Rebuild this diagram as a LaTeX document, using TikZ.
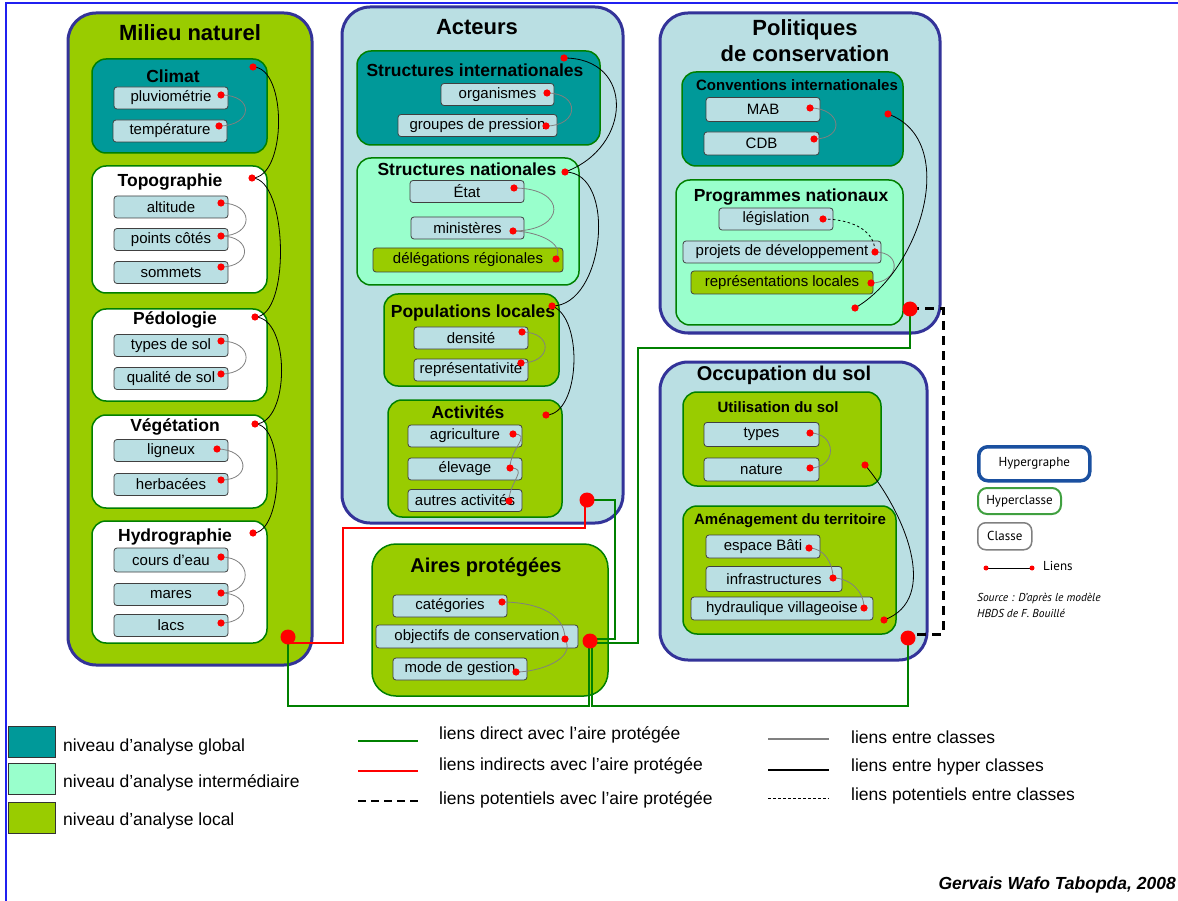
\documentclass[tikz,border=0pt]{standalone}
\usepackage{fontspec}
\setmainfont{Liberation Sans}
\newfontfamily\legfont{PT Sans}
\definecolor{cglobal}{HTML}{009999}
\definecolor{cinter}{HTML}{99FFCC}
\definecolor{clocal}{HTML}{99CC00}
\definecolor{cfond}{HTML}{BADFE3}
\definecolor{cbord}{HTML}{333399}
\definecolor{cvert}{HTML}{008000}
\definecolor{ccadre}{HTML}{2020F0}
\definecolor{chg}{HTML}{1A50A0}
\definecolor{chc}{HTML}{40A040}
\tikzset{
  hgraphe/.style={draw=cbord,line width=3pt,rounded corners=28pt,anchor=north west,inner sep=0pt,outer sep=0pt},
  hclasse/.style={draw=cvert,line width=1.5pt,rounded corners=14pt,anchor=north west,inner sep=0pt,outer sep=0pt},
  classe/.style={draw=black!75,line width=0.8pt,fill=cfond,rounded corners=3pt,inner sep=0pt,minimum height=22pt,font=\fontsize{15}{18}\selectfont},
  titre/.style={font=\bfseries\fontsize{22}{26}\selectfont,align=center},
  stitre/.style={font=\bfseries\fontsize{17.5}{20}\selectfont},
  petitre/.style={font=\bfseries\fontsize{15}{18}\selectfont},
  legende/.style={font=\fontsize{17.5}{20}\selectfont,anchor=west,inner sep=0pt},
  lienc/.style={draw=gray,line width=0.8pt},
  lienh/.style={draw=black,line width=0.8pt},
  lienp/.style={draw=black,line width=0.8pt,dash pattern=on 2.5pt off 2.5pt},
  direct/.style={draw=cvert,line width=2pt},
  indirect/.style={draw=red,line width=2pt},
  potentiel/.style={draw=black,line width=3pt,dash pattern=on 9pt off 6pt},
  cadre/.style={draw=ccadre,line width=2pt},
}
\begin{document}
\begin{tikzpicture}[x=1pt,y=-1pt]
\useasboundingbox (0,0) rectangle (1178,901);
\draw[cadre] (1178,3) -| (6,901);

% hypergraphes
\node[hgraphe,fill=clocal,minimum width=244pt,minimum height=652pt] (milieu) at (68,13) {};
\node[hgraphe,fill=cfond,minimum width=281pt,minimum height=516pt] (acteurs) at (342,7) {};
\node[hgraphe,fill=cfond,minimum width=280pt,minimum height=320pt] (politiques) at (660,13) {};
\node[hgraphe,fill=cfond,minimum width=267pt,minimum height=298pt] (occup) at (660,362) {};
\node[hclasse,fill=clocal,rounded corners=24pt,minimum width=236pt,minimum height=152pt] (aires) at (372,544) {};

% hyperclasses
\node[hclasse,fill=cglobal,minimum width=175pt,minimum height=94pt] (climat) at (92,59) {};
\node[hclasse,fill=white,minimum width=175pt,minimum height=127pt] (topo) at (92,166) {};
\node[hclasse,fill=white,minimum width=175pt,minimum height=92pt] (pedo) at (92,309) {};
\node[hclasse,fill=white,minimum width=175pt,minimum height=93pt] (veget) at (92,415) {};
\node[hclasse,fill=white,minimum width=175pt,minimum height=122pt] (hydro) at (92,521) {};
\node[hclasse,fill=cglobal,minimum width=243pt,minimum height=94pt] (sint) at (357,51) {};
\node[hclasse,fill=cinter,minimum width=222pt,minimum height=127pt] (snat) at (357,158) {};
\node[hclasse,fill=clocal,minimum width=175pt,minimum height=92pt] (popl) at (384,294) {};
\node[hclasse,fill=clocal,minimum width=174pt,minimum height=117pt] (activ) at (388,400) {};
\node[hclasse,fill=cglobal,minimum width=221pt,minimum height=94pt] (conv) at (682,72) {};
\node[hclasse,fill=cinter,minimum width=227pt,minimum height=145pt] (prog) at (676,180) {};
\node[hclasse,fill=clocal,minimum width=198pt,minimum height=94pt] (util) at (683,392) {};
\node[hclasse,fill=clocal,minimum width=213pt,minimum height=128pt] (amen) at (683,506) {};

% titres
\node[titre] (milieuT) at (190,33) {Milieu naturel};
\node[titre] (acteursT) at (477,27) {Acteurs};
\node[titre] (politiquesT) at (805,41) {Politiques\\de conservation};
\node[titre,font=\bfseries\fontsize{20}{24}\selectfont] (occupT) at (784,375) {Occupation du sol};
\node[titre,font=\bfseries\fontsize{20}{24}\selectfont] (airesT) at (486,567) {Aires protégées};
\node[stitre] (climatT) at (173,76) {Climat};
\node[stitre] (topoT) at (170,182) {Topographie};
\node[stitre] (pedoT) at (175,320) {Pédologie};
\node[stitre] (vegetT) at (175,427) {Végétation};
\node[stitre] (hydroT) at (175,537) {Hydrographie};
\node[stitre] (sintT) at (475,70) {Structures internationales};
\node[stitre] (snatT) at (467,169) {Structures nationales};
\node[stitre] (poplT) at (473,313) {Populations locales};
\node[stitre] (activT) at (468,412) {Activités};
\node[petitre] (convT) at (797,85) {Conventions internationales};
\node[stitre] (progT) at (791,197) {Programmes nationaux};
\node[petitre] (utilT) at (778,407) {Utilisation du sol};
\node[petitre] (amenT) at (790,521) {Aménagement du territoire};

% classes
\node[classe,minimum width=114pt] (pluvio) at (171,98) {pluviométrie};
\node[classe,minimum width=114pt] (temp) at (170,131) {température};
\node[classe,minimum width=114pt] (alt) at (171,207) {altitude};
\node[classe,minimum width=114pt] (points) at (171,239.5) {points côtés};
\node[classe,minimum width=114pt] (sommets) at (171,272.5) {sommets};
\node[classe,minimum width=114pt] (tsol) at (171,345.5) {types de sol};
\node[classe,minimum width=114pt] (qsol) at (171,378.5) {qualité de sol};
\node[classe,minimum width=114pt] (ligneux) at (171,450.5) {ligneux};
\node[classe,minimum width=114pt] (herb) at (171,484.5) {herbacées};
\node[classe,minimum width=114pt,minimum height=24pt] (cours) at (171,560) {cours d’eau};
\node[classe,minimum width=114pt] (mares) at (171,594.5) {mares};
\node[classe,minimum width=114pt] (lacs) at (171,625.5) {lacs};
\node[classe,minimum width=113pt] (org) at (497.5,94.5) {organismes};
\node[classe,minimum width=159pt] (groupes) at (477.5,125.5) {groupes de pression};
\node[classe,minimum width=114pt] (etat) at (467,191.5) {État};
\node[classe,minimum width=113pt] (min) at (467.5,228) {ministères};
\node[classe,fill=clocal,minimum width=190pt,minimum height=24pt] (deleg) at (468,260) {délégations régionales};
\node[classe,minimum width=114pt] (dens) at (471,338) {densité};
\node[classe,minimum width=114pt] (rep) at (471,370) {représentativité};
\node[classe,minimum width=114pt] (agri) at (465,436) {agriculture};
\node[classe,minimum width=114pt] (elev) at (465,469) {élevage};
\node[classe,minimum width=114pt] (autres) at (465,500.5) {autres activités};
\node[classe,minimum width=114pt] (cat) at (450,606) {catégories};
\node[classe,minimum width=202pt,minimum height=23pt] (obj) at (477,636.5) {objectifs de conservation};
\node[classe,minimum width=134pt] (mode) at (460,669) {mode de gestion};
\node[classe,minimum width=114pt,minimum height=24pt] (mab) at (763,109.5) {MAB};
\node[classe,minimum width=115pt,minimum height=23pt] (cdb) at (761.5,143.5) {CDB};
\node[classe,minimum width=114pt] (legis) at (776,219) {législation};
\node[classe,minimum width=198pt] (proj) at (782,252) {projets de développement};
\node[classe,fill=clocal,minimum width=182pt,minimum height=23pt] (reploc) at (782,282.5) {représentations locales};
\node[classe,minimum width=115pt,minimum height=24pt] (types) at (761.5,434.5) {types};
\node[classe,minimum width=115pt,minimum height=23pt] (nature) at (761.5,469.5) {nature};
\node[classe,minimum width=114pt,minimum height=23pt] (espace) at (763,546.5) {espace Bâti};
\node[classe,minimum width=136pt,minimum height=25pt] (infra) at (774,579) {infrastructures};
\node[classe,minimum width=182pt,minimum height=23pt] (hydrau) at (782,608.5) {hydraulique villageoise};

% points d'attache
\coordinate (climatP) at (253,67);
\coordinate (pluvioP) at (221,95);
\coordinate (tempP) at (219,126);
\coordinate (topoP) at (252,178);
\coordinate (altP) at (221,203);
\coordinate (pointsP) at (221,236);
\coordinate (sommetsP) at (221,267);
\coordinate (pedoP) at (255,317);
\coordinate (tsolP) at (221,341);
\coordinate (qsolP) at (221,374);
\coordinate (vegetP) at (255,424);
\coordinate (ligneuxP) at (217,449);
\coordinate (herbP) at (221,480);
\coordinate (hydroP) at (253,533);
\coordinate (coursP) at (221,557);
\coordinate (maresP) at (221,593);
\coordinate (lacsP) at (221,623);
\coordinate (sintP) at (564,58);
\coordinate (orgP) at (547,93);
\coordinate (groupesP) at (546,126);
\coordinate (snatP) at (565,172);
\coordinate (etatP) at (514,188);
\coordinate (minP) at (513,231);
\coordinate (delegP) at (556,259);
\coordinate (poplP) at (552,306);
\coordinate (densP) at (522,332);
\coordinate (repP) at (521,363);
\coordinate (activP) at (546,415);
\coordinate (agriP) at (513,434);
\coordinate (elevP) at (510,468);
\coordinate (autresP) at (509,501);
\coordinate (catP) at (502,602);
\coordinate (objP) at (565,639);
\coordinate (modeP) at (516,672);
\coordinate (convP) at (888,114);
\coordinate (mabP) at (810,108);
\coordinate (cdbP) at (814,139);
\coordinate (progP) at (855,308);
\coordinate (legisP) at (823,219);
\coordinate (projP) at (875,252);
\coordinate (replocP) at (871,283);
\coordinate (utilP) at (865,465);
\coordinate (typesP) at (810,433);
\coordinate (natureP) at (810,468);
\coordinate (amenP) at (884,620);
\coordinate (espaceP) at (809,548);
\coordinate (infraP) at (833,578);
\coordinate (hydrauP) at (864,608);
\coordinate (milieuP) at (288,637);
\coordinate (acteursP) at (587,500);
\coordinate (airesP) at (590,641);
\coordinate (politiquesP) at (910,309);
\coordinate (occupP) at (908,638);

% liens avec l'aire protegee
\draw[indirect] ([yshift=-6pt]milieuP) -| (343,528) -| ([xshift=-2pt]acteursP);
\draw[direct] ([yshift=2pt]airesP) -| (615,500) -- (acteursP);
\draw[direct] ([yshift=-2pt]airesP) -| (638,348) -| (politiquesP);
\draw[direct] ([xshift=1.5pt]airesP) -- ++(0,65) -| (occupP);
\draw[direct] ([xshift=-1.5pt]airesP) -- ++(0,65) -| (milieuP);
\draw[potentiel] (politiquesP) -| (943,470) |- ([yshift=4pt]occupP);

% liens entre classes
\draw[lienc] (pluvioP) to[out=0,in=0,looseness=2.8] (tempP);
\draw[lienc] (altP) to[out=0,in=0,looseness=2.6] (pointsP);
\draw[lienc] (pointsP) to[out=0,in=0,looseness=2.6] (sommetsP);
\draw[lienc] (tsolP) to[out=0,in=0,looseness=2.6] (qsolP);
\draw[lienc] (ligneuxP) to[out=0,in=0,looseness=2.6] (herbP);
\draw[lienc] (coursP) to[out=0,in=0,looseness=2.3] (maresP);
\draw[lienc] (maresP) to[out=0,in=0,looseness=2.6] (lacsP);
\draw[lienc] (orgP) to[out=0,in=0,looseness=2.6] (groupesP);
\draw[lienc] (etatP) to[out=0,in=0,looseness=3.2] (minP);
\draw[lienc] (minP) to[out=0,in=60,looseness=1] (delegP);
\draw[lienc] (densP) to[out=0,in=0,looseness=2.6] (repP);
\draw[lienc] (agriP) to[out=0,in=90,looseness=1.5] (elevP);
\draw[lienc] (elevP) to[out=0,in=90,looseness=1.5] (autresP);
\draw[lienc] (catP) to[out=0,in=90,looseness=1] (objP);
\draw[lienc] (objP) to[out=-60,in=0,looseness=1] (modeP);
\draw[lienc] (mabP) to[out=0,in=0,looseness=2.6] (cdbP);
\draw[lienp] (legisP) to[out=0,in=90,looseness=1] (projP);
\draw[lienc] (projP) to[out=0,in=0,looseness=2.3] (replocP);
\draw[lienc] (typesP) to[out=0,in=0,looseness=2] (natureP);
\draw[lienc] (espaceP) to[out=0,in=90,looseness=1] (infraP);
\draw[lienc] (infraP) to[out=0,in=90,looseness=1] (hydrauP);

% liens entre hyperclasses
\draw[lienh] (climatP) to[out=0,in=0,looseness=0.8] (topoP);
\draw[lienh] (topoP) to[out=0,in=0,looseness=0.66] (pedoP);
\draw[lienh] (pedoP) to[out=0,in=0,looseness=0.85] (vegetP);
\draw[lienh] (vegetP) to[out=0,in=0,looseness=0.72] (hydroP);
\draw[lienh] (sintP) to[out=0,in=20,looseness=1.6] (snatP);
\draw[lienh] (snatP) to[out=0,in=0,looseness=1] (poplP);
\draw[lienh] (poplP) to[out=-20,in=0,looseness=0.8] (activP);
\draw[lienh] (convP) to[out=-20,in=30,looseness=1] (progP);
\draw[lienh] (utilP) to[out=-50,in=20,looseness=1] (amenP);

\foreach \p in {climatP,pluvioP,tempP,topoP,altP,pointsP,sommetsP,pedoP,tsolP,qsolP,vegetP,ligneuxP,herbP,hydroP,coursP,maresP,lacsP,sintP,orgP,groupesP,snatP,etatP,minP,delegP,poplP,densP,repP,activP,agriP,elevP,autresP,catP,objP,modeP,convP,mabP,cdbP,progP,legisP,projP,replocP,utilP,typesP,natureP,amenP,espaceP,infraP,hydrauP}
  \fill[red] (\p) circle (3.6);
\foreach \p in {milieuP,acteursP,airesP,politiquesP,occupP}
  \fill[red] (\p) circle (7.5);

% legende des niveaux
\node[draw=black!80,fill=cglobal,anchor=north west,minimum width=47pt,minimum height=31pt] (legG) at (8,726) {};
\node[draw=black!80,fill=cinter,anchor=north west,minimum width=47pt,minimum height=31pt] (legI) at (8,763) {};
\node[draw=black!80,fill=clocal,anchor=north west,minimum width=47pt,minimum height=31pt] (legL) at (8,802) {};
\node[legende] (legGt) at (63,747) {niveau d’analyse global};
\node[legende] (legIt) at (63,783) {niveau d’analyse intermédiaire};
\node[legende] (legLt) at (63,821) {niveau d’analyse local};

% legende des liens
\coordinate (ld1) at (358,741); \coordinate (ld2) at (418,741);
\coordinate (li1) at (358,771); \coordinate (li2) at (418,771);
\coordinate (lp1) at (358,801); \coordinate (lp2) at (418,801);
\draw[direct] (ld1) -- (ld2);
\draw[indirect] (li1) -- (li2);
\draw[draw=black,line width=2.5pt,dash pattern=on 8pt off 5pt] (lp1) -- (lp2);
\node[legende] (ldt) at (439,735) {liens direct avec l’aire protégée};
\node[legende] (lit) at (439,766) {liens indirects avec l’aire protégée};
\node[legende] (lpt) at (439,800) {liens potentiels avec l’aire protégée};
\coordinate (lc1) at (768,739); \coordinate (lc2) at (829,739);
\coordinate (lh1) at (768,770); \coordinate (lh2) at (829,770);
\coordinate (lq1) at (768,798); \coordinate (lq2) at (829,798);
\draw[lienc,line width=1.2pt] (lc1) -- (lc2);
\draw[lienh,line width=1.2pt] (lh1) -- (lh2);
\draw[lienp] (lq1) -- (lq2);
\node[legende] (lct) at (851,737) {liens entre classes};
\node[legende] (lht) at (851,767) {liens entre hyper classes};
\node[legende] (lqt) at (851,796) {liens potentiels entre classes};
\node[font=\bfseries\itshape\fontsize{17.5}{20}\selectfont,anchor=east,inner sep=0pt] (auteur) at (1176,885) {Gervais Wafo Tabopda, 2008};

% legende du modele
\node[draw=chg,line width=3.5pt,rounded corners=9pt,anchor=north west,minimum width=111pt,minimum height=34pt,font=\legfont\fontsize{13}{15}\selectfont] (lhg) at (977,445) {Hypergraphe};
\node[draw=chc,line width=2pt,rounded corners=9pt,anchor=north west,minimum width=83pt,minimum height=26pt,inner sep=0pt,font=\legfont\fontsize{13}{15}\selectfont] (lhc) at (977,487) {Hyperclasse};
\node[draw=gray,line width=1.5pt,rounded corners=8pt,anchor=north west,minimum width=54pt,minimum height=27pt,inner sep=0pt,font=\legfont\fontsize{13}{15}\selectfont] (lcl) at (977,522) {Classe};
\coordinate (ll1) at (986,568); \coordinate (ll2) at (1032,568);
\draw[lienh] (ll1) -- (ll2);
\fill[red] (ll1) circle (2.5); \fill[red] (ll2) circle (2.5);
\node[font=\legfont\fontsize{13}{15}\selectfont,anchor=west,inner sep=0pt] (llt) at (1043,566) {Liens};
\node[font=\legfont\itshape\fontsize{11.5}{16}\selectfont,anchor=north west,align=left,inner sep=0pt] (source) at (977,593) {Source : D’après le modèle\\HBDS de F. Bouillé};
\end{tikzpicture}
\end{document}
